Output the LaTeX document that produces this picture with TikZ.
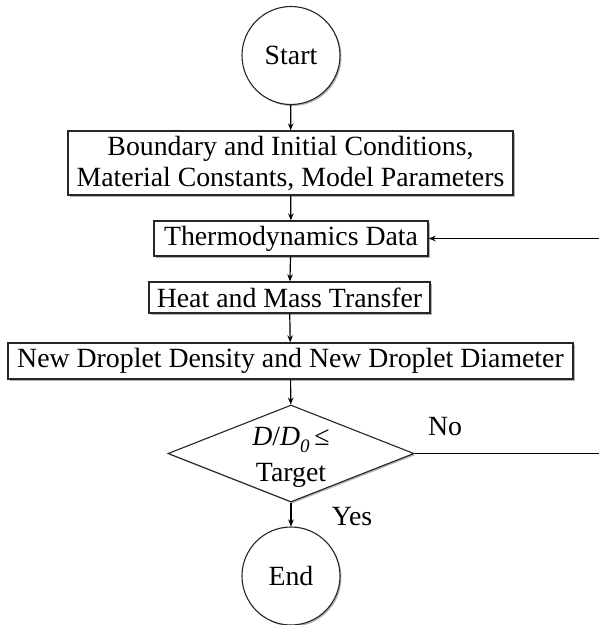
\documentclass[tikz,border=0pt]{standalone}
\usepackage{fontspec}
\setmainfont{Liberation Serif}
\usetikzlibrary{shapes.geometric,arrows.meta,shadows}
\begin{document}
\begin{tikzpicture}[x=1pt,y=-1pt,
  every node/.style={font=\fontsize{27.8}{31}\selectfont, text=black},
  shad/.style={drop shadow={shadow xshift=1.5pt,shadow yshift=-1.5pt,fill=black,opacity=0.3}},
  procbox/.style={draw=black!85, line width=1.3pt, fill=white, shad, inner sep=0pt, align=center},
  termnode/.style={circle, draw=black!85, line width=1.1pt, fill=white, shad, minimum size=98pt, inner sep=0pt},
  decnode/.style={diamond, draw=black!85, line width=1.1pt, fill=white, shad, minimum width=246pt, minimum height=97pt, inner sep=0pt},
  conn/.style={draw=black, line width=1.2pt},
  arr/.style={conn, -{Stealth[length=7pt,width=5.5pt]}},
  lbl/.style={inner sep=0pt}
]
\useasboundingbox (0,0) rectangle (599,625);
\fill[white] (0,0) rectangle (599,625);

\node[termnode] (start) at (291,55.5) {Start};
\node[procbox, minimum width=445pt, minimum height=64pt] (bc) at (290.5,163)
  {Boundary and Initial Conditions,\\Material Constants, Model Parameters};
\node[procbox, minimum width=274pt, minimum height=35pt] (thermo) at (291,238.5) {Thermodynamics Data};
\node[procbox, minimum width=281pt, minimum height=31pt] (heat) at (289.5,297.5) {Heat and Mass Transfer};
\node[procbox, minimum width=565pt, minimum height=36pt] (dens) at (290.5,361) {New Droplet Density and New Droplet Diameter};
\node[decnode] (dec) at (291,453.5) {};
\node[lbl] (decA) at (291,440) {\textit{D}/\textit{D}\raisebox{-0.25em}{\fontsize{19}{19}\selectfont\textit{0}}\,≤};
\node[lbl] (decB) at (291,475) {Target};
\node[termnode] (end) at (291,576) {End};

\node[lbl] (no) at (445,427) {No};
\node[lbl] (yes) at (352,517) {Yes};

\coordinate (r1) at (599,453.5);
\coordinate (r2) at (599,238.5);

\draw[arr] (start) -- (bc);
\draw[arr] (bc) -- (thermo);
\draw[arr] (thermo) -- (heat);
\draw[arr] (heat) -- (dens);
\draw[arr] (dens) -- (dec);
\draw[arr] (dec) -- (end);
\draw[conn] (dec.east) -- (r1);
\draw[arr] (r2) -- (thermo.east);
\end{tikzpicture}
\end{document}
